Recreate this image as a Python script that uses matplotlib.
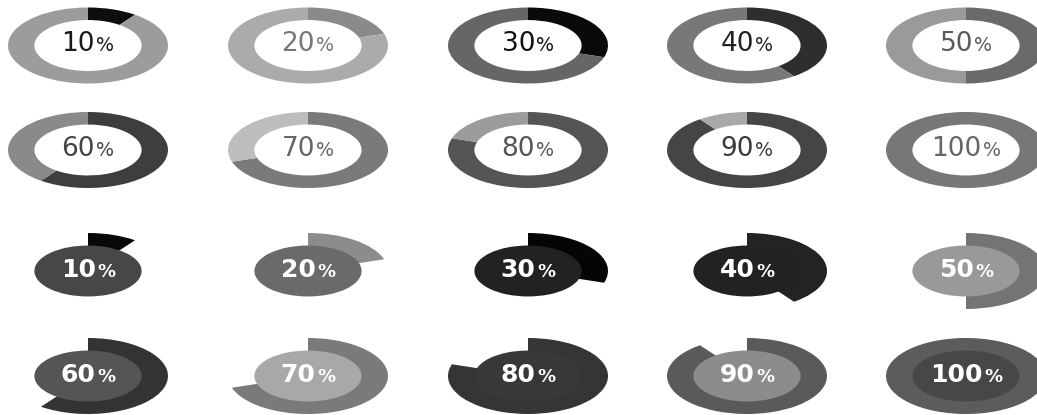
import matplotlib
matplotlib.use("Agg")
import matplotlib.pyplot as plt
from matplotlib.offsetbox import TextArea, HPacker, AnnotationBbox

# values shown in each set of charts
percents = [10, 20, 30, 40, 50, 60, 70, 80, 90, 100]

# ring style (top two rows)
ring_arc_colors = ['#0d0d0d', '#8a8a8a', '#0a0a0a', '#2e2e2e', '#6a6a6a',
                   '#3e3e3e', '#7a7a7a', '#555555', '#454545', '#777777']
ring_rest_colors = ['#9c9c9c', '#ababab', '#666666', '#787878', '#9a9a9a',
                    '#8a8a8a', '#bdbdbd', '#9c9c9c', '#a9a9a9', '#777777']
ring_text_colors = ['#1a1a1a', '#777777', '#111111', '#222222', '#5a5a5a',
                    '#444444', '#666666', '#555555', '#3a3a3a', '#666666']

# disc + outer arc style (bottom two rows)
pie_arc_colors = ['#080808', '#8c8c8c', '#050505', '#232323', '#747474',
                  '#333333', '#7a7a7a', '#353535', '#5a5a5a', '#5c5c5c']
pie_disc_colors = ['#474747', '#6a6a6a', '#222222', '#222222', '#999999',
                   '#555555', '#a8a8a8', '#383838', '#8c8c8c', '#474747']

W, H = 1037, 415
col_x = [88, 308, 528, 747, 966]
row_y = [45.5, 150, 271, 376]
box_w, box_h = 160, 76
inner = 0.67

fig = plt.figure(figsize=(W / 100, H / 100), dpi=100)


def make_ax(cx, cy):
    ax = fig.add_axes([(cx - box_w / 2) / W, 1 - (cy + box_h / 2) / H,
                       box_w / W, box_h / H])
    return ax


def finish(ax):
    ax.set_xlim(-1, 1)
    ax.set_ylim(-1, 1)
    ax.set_aspect('auto')
    ax.axis('off')


def label(ax, pct, color, weight, size):
    num = TextArea(str(pct), textprops=dict(color=color, fontsize=size,
                                            fontweight=weight, family='DejaVu Sans'))
    sign = TextArea('%', textprops=dict(color=color, fontsize=size * 0.72,
                                        fontweight=weight, family='DejaVu Sans'))
    box = HPacker(children=[num, sign], align='baseline', pad=0, sep=1)
    ab = AnnotationBbox(box, (0, 0), xycoords='data', frameon=False,
                        box_alignment=(0.5, 0.45))
    ax.add_artist(ab)


for i, p in enumerate(percents):
    # ring charts
    ax = make_ax(col_x[i % 5], row_y[i // 5])
    ax.pie([p, 100 - p], colors=[ring_arc_colors[i], ring_rest_colors[i]],
           startangle=90, counterclock=False, radius=1,
           wedgeprops=dict(width=1 - inner, linewidth=0))
    finish(ax)
    label(ax, p, ring_text_colors[i], 'normal', 19)

    # disc with outer arc
    ax = make_ax(col_x[i % 5], row_y[2 + i // 5])
    ax.pie([p, 100 - p], colors=[pie_arc_colors[i], 'none'],
           startangle=90, counterclock=False, radius=1,
           wedgeprops=dict(width=1 - inner + 0.02, linewidth=0))
    ax.pie([100], colors=[pie_disc_colors[i]], radius=inner,
           wedgeprops=dict(linewidth=0))
    finish(ax)
    label(ax, p, 'white', 'bold', 18)

fig.savefig('out.png', dpi=100)
